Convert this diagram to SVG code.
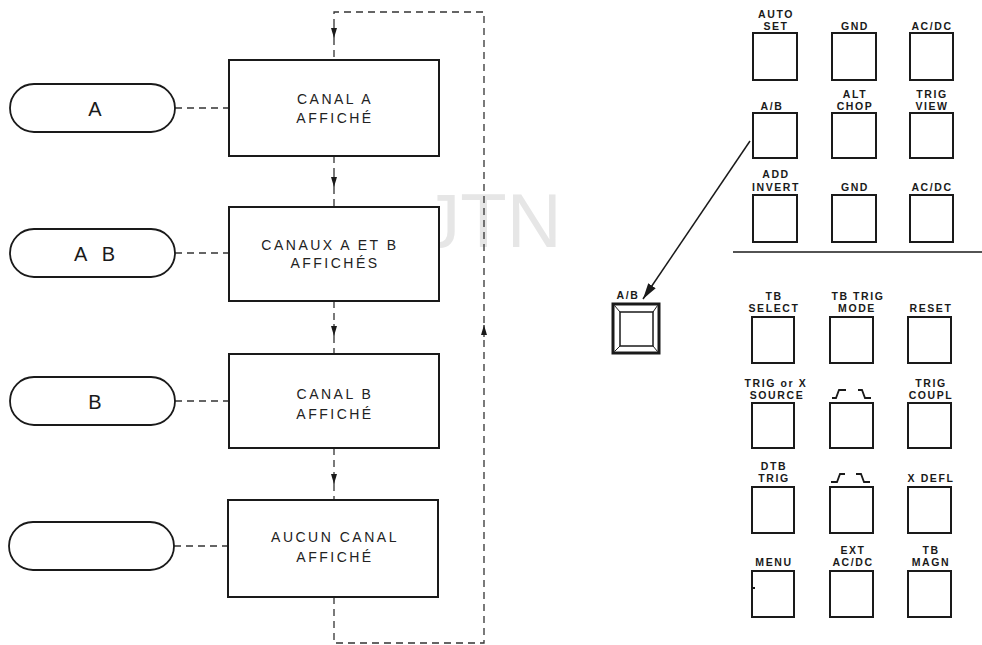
<svg xmlns="http://www.w3.org/2000/svg" width="982" height="645" viewBox="0 0 982 645">
<defs>
<style>
.bg{fill:#ffffff}
.box{fill:#ffffff;stroke:#1a1a1a;stroke-width:2}
.pill{fill:#ffffff;stroke:#1a1a1a;stroke-width:1.8}
.dash{fill:none;stroke:#333;stroke-width:1.3;stroke-dasharray:7,5}
.ftxt{font-family:"Liberation Sans",Arial,sans-serif;font-size:14px;letter-spacing:2.5px;fill:#222;text-anchor:middle}
.ptxt{font-family:"Liberation Sans",Arial,sans-serif;font-size:20px;fill:#1a1a1a;text-anchor:middle}
.btn{fill:#ffffff;stroke:#1a1a1a;stroke-width:2}
.lbl{font-family:"Liberation Sans",Arial,sans-serif;font-size:10.5px;font-weight:bold;letter-spacing:1.6px;fill:#1a1a1a;text-anchor:middle}
.wave{fill:none;stroke:#1a1a1a;stroke-width:1.8}
.wm{font-family:"Liberation Sans",Arial,sans-serif;font-size:76px;fill:#e6e6e6;text-anchor:middle}
</style>
<marker id="ah" viewBox="0 0 10 6" refX="10" refY="3" markerWidth="10" markerHeight="6" markerUnits="userSpaceOnUse" orient="auto">
<path d="M0,0 L10,3 L0,6 z" fill="#1a1a1a"/>
</marker>
<marker id="ah2" viewBox="0 0 16 9" refX="16" refY="4.5" markerWidth="16" markerHeight="9" markerUnits="userSpaceOnUse" orient="auto">
<path d="M0,0 L16,4.5 L0,9 z" fill="#1a1a1a"/>
</marker>
</defs>
<rect class="bg" x="0" y="0" width="982" height="645"/>
<text class="wm" x="492" y="247">JTN</text>

<g id="connectors">
<line class="dash" x1="175" y1="108" x2="229" y2="108"/>
<line class="dash" x1="175" y1="253" x2="229" y2="253"/>
<line class="dash" x1="175" y1="401" x2="229" y2="401"/>
<line class="dash" x1="174" y1="546" x2="228" y2="546"/>
<path class="dash" d="M334,597 V643 H484 V12 H334 V26"/>
<line class="dash" x1="334" y1="26" x2="334" y2="38" marker-end="url(#ah)" style="stroke-dasharray:none"/>
<line class="dash" x1="334" y1="38" x2="334" y2="60"/>
<line class="dash" x1="334" y1="156" x2="334" y2="175"/>
<line class="dash" x1="334" y1="175" x2="334" y2="187" marker-end="url(#ah)" style="stroke-dasharray:none"/>
<line class="dash" x1="334" y1="187" x2="334" y2="207"/>
<line class="dash" x1="334" y1="301" x2="334" y2="324"/>
<line class="dash" x1="334" y1="324" x2="334" y2="336" marker-end="url(#ah)" style="stroke-dasharray:none"/>
<line class="dash" x1="334" y1="336" x2="334" y2="354"/>
<line class="dash" x1="334" y1="448" x2="334" y2="472"/>
<line class="dash" x1="334" y1="472" x2="334" y2="484" marker-end="url(#ah)" style="stroke-dasharray:none"/>
<line class="dash" x1="334" y1="484" x2="334" y2="500"/>
<line class="dash" x1="484" y1="337" x2="484" y2="325" marker-end="url(#ah)" style="stroke-dasharray:none"/>
<line x1="750" y1="141" x2="643" y2="299" stroke="#1a1a1a" stroke-width="1.5" marker-end="url(#ah2)"/>
</g>

<g id="pill-a"><rect class="pill" x="10" y="84" width="165" height="48" rx="24" ry="24"/><text class="ptxt" x="95" y="116">A</text></g>
<g id="pill-ab"><rect class="pill" x="10" y="229" width="165" height="48" rx="24" ry="24"/><text class="ptxt" x="97" y="261" style="letter-spacing:5px">A B</text></g>
<g id="pill-b"><rect class="pill" x="10" y="377" width="165" height="48" rx="24" ry="24"/><text class="ptxt" x="95" y="409">B</text></g>
<g id="pill-none"><rect class="pill" x="9" y="522" width="165" height="48" rx="24" ry="24"/></g>

<g id="box-canal-a"><rect class="box" x="229" y="60" width="210" height="96"/><text class="ftxt" x="335" y="103.5">CANAL A</text><text class="ftxt" x="335" y="122.5">AFFICHÉ</text></g>
<g id="box-canaux-ab"><rect class="box" x="229" y="207" width="210" height="94"/><text class="ftxt" x="330" y="250">CANAUX A ET B</text><text class="ftxt" x="335" y="268">AFFICHÉS</text></g>
<g id="box-canal-b"><rect class="box" x="229" y="354" width="210" height="94"/><text class="ftxt" x="335" y="399">CANAL B</text><text class="ftxt" x="335" y="419">AFFICHÉ</text></g>
<g id="box-aucun"><rect class="box" x="228" y="500" width="210" height="97"/><text class="ftxt" x="335" y="542">AUCUN CANAL</text><text class="ftxt" x="335" y="562">AFFICHÉ</text></g>

<g id="panel-upper">
<rect class="btn" x="753" y="33" width="44" height="47"/><text class="lbl" x="776" y="17.5">AUTO</text><text class="lbl" x="776" y="30">SET</text>
<rect class="btn" x="832" y="33" width="44" height="47"/><text class="lbl" x="855" y="30">GND</text>
<rect class="btn" x="910" y="33" width="43" height="47"/><text class="lbl" x="932" y="30">AC/DC</text>
<rect class="btn" x="753" y="113" width="44" height="45"/><text class="lbl" x="772" y="110">A/B</text>
<rect class="btn" x="832" y="113" width="44" height="45"/><text class="lbl" x="855" y="97.5">ALT</text><text class="lbl" x="855" y="110">CHOP</text>
<rect class="btn" x="910" y="113" width="43" height="45"/><text class="lbl" x="932" y="97.5">TRIG</text><text class="lbl" x="932" y="110">VIEW</text>
<rect class="btn" x="753" y="195" width="44" height="47"/><text class="lbl" x="776" y="178">ADD</text><text class="lbl" x="776" y="190.5">INVERT</text>
<rect class="btn" x="832" y="195" width="44" height="47"/><text class="lbl" x="855" y="190.5">GND</text>
<rect class="btn" x="910" y="195" width="43" height="47"/><text class="lbl" x="932" y="190.5">AC/DC</text>
<line x1="733" y1="252" x2="982" y2="252" stroke="#1a1a1a" stroke-width="1.6"/>
</g>

<g id="ab-button">
<text class="lbl" x="628" y="299">A/B</text>
<rect x="613" y="304" width="46" height="49" fill="#fff" stroke="#1a1a1a" stroke-width="3"/>
<rect x="620" y="312" width="33" height="34" fill="none" stroke="#1a1a1a" stroke-width="1.5"/>
<path d="M614.5,305.5 L620,312 M657.5,305.5 L653,312 M614.5,351.5 L620,346 M657.5,351.5 L653,346" stroke="#1a1a1a" stroke-width="1"/>
</g>

<g id="panel-lower">
<rect class="btn" x="752" y="317" width="42" height="46"/><text class="lbl" x="774" y="299.5">TB</text><text class="lbl" x="774" y="312">SELECT</text>
<rect class="btn" x="830" y="317" width="43" height="46"/><text class="lbl" x="858" y="299.5">TB TRIG</text><text class="lbl" x="857" y="312">MODE</text>
<rect class="btn" x="908" y="317" width="43" height="46"/><text class="lbl" x="931" y="312">RESET</text>
<rect class="btn" x="752" y="403" width="42" height="45"/><text class="lbl" x="776" y="386.5">TRIG or X</text><text class="lbl" x="777" y="399">SOURCE</text>
<rect class="btn" x="830" y="403" width="43" height="45"/><path class="wave" d="M832,398 H836 L839,390 H846 M858,390 H862 L865,398 H871"/>
<rect class="btn" x="908" y="403" width="43" height="45"/><text class="lbl" x="931" y="386.5">TRIG</text><text class="lbl" x="931" y="399">COUPL</text>
<rect class="btn" x="752" y="487" width="42" height="46"/><text class="lbl" x="774" y="469.5">DTB</text><text class="lbl" x="774" y="482">TRIG</text>
<rect class="btn" x="830" y="487" width="43" height="46"/><path class="wave" d="M831,482 H837 L840,474 H845 M856,474 H861 L864,482 H870"/>
<rect class="btn" x="908" y="487" width="43" height="46"/><text class="lbl" x="931" y="482">X DEFL</text>
<rect class="btn" x="752" y="571" width="42" height="46"/><text class="lbl" x="774" y="566">MENU</text><line x1="752" y1="588" x2="755" y2="588" stroke="#1a1a1a" stroke-width="2"/>
<rect class="btn" x="830" y="571" width="43" height="46"/><text class="lbl" x="853" y="553.5">EXT</text><text class="lbl" x="853" y="566">AC/DC</text>
<rect class="btn" x="908" y="571" width="43" height="46"/><text class="lbl" x="931" y="553.5">TB</text><text class="lbl" x="931" y="566">MAGN</text>
</g>
</svg>
